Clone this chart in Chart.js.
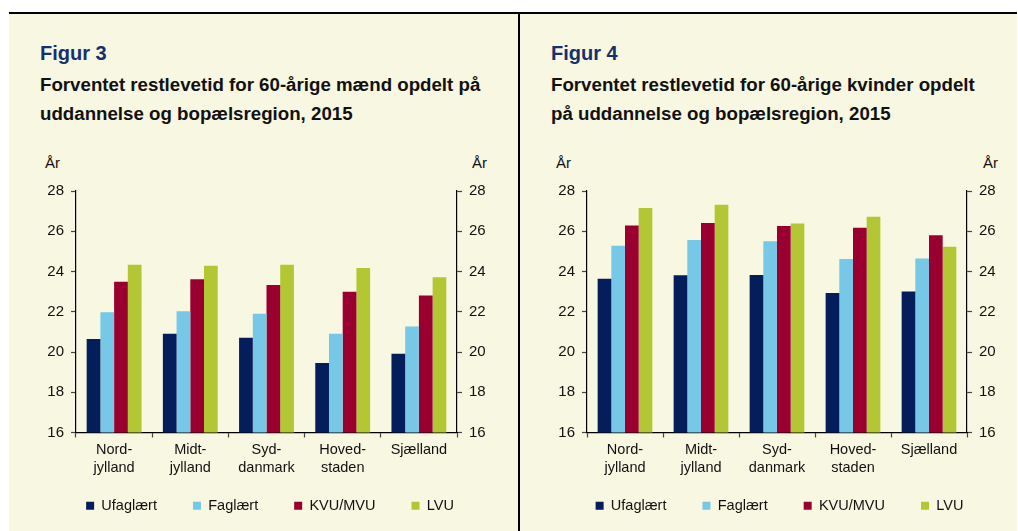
<!DOCTYPE html>
<html>
<head>
<meta charset="utf-8">
<script src="https://cdn.jsdelivr.net/npm/chart.js@4"></script>
<style>
  html, body { margin: 0; padding: 0; background: #fff; overflow: hidden; }
  body { width: 1018px; height: 531px; position: relative; font-family: "Liberation Sans", Arial, sans-serif; }
  .frame { position: absolute; left: 9px; top: 12px; width: 1008px; height: 519px; background: #f8f7e1; border-top: 2px solid #000; box-sizing: border-box; }
  .divider { position: absolute; left: 518px; top: 12px; width: 2px; height: 519px; background: #000; }
  .fig { position: absolute; font-weight: bold; color: #15306e; font-size: 20px; }
  .sub { position: absolute; font-weight: bold; color: #111; font-size: 18.7px; line-height: 29px; }
  .unit { position: absolute; font-size: 15px; color: #111; }
  canvas { position: absolute; }
</style>
</head>
<body>
<div class="frame"></div>
<div class="divider"></div>

<div class="fig" style="left:40px; top:42px;">Figur 3</div>
<div class="sub" style="left:40px; top:70px;">Forventet restlevetid for 60-årige mænd opdelt på<br>uddannelse og bopælsregion, 2015</div>
<div class="unit" style="left:45px; top:154px;">År</div>
<div class="unit" style="left:472px; top:154px;">År</div>
<div style="position:absolute; left:30px; top:150px; width:480px; height:381px;"><canvas id="men"></canvas></div>

<div class="fig" style="left:551px; top:42px;">Figur 4</div>
<div class="sub" style="left:551px; top:70px;">Forventet restlevetid for 60-årige kvinder opdelt<br>på uddannelse og bopælsregion, 2015</div>
<div class="unit" style="left:556px; top:154px;">År</div>
<div class="unit" style="left:983px; top:154px;">År</div>
<div style="position:absolute; left:541px; top:150px; width:477px; height:381px;"><canvas id="women"></canvas></div>

<script>
const regions = [['Nord-', 'jylland'], ['Midt-', 'jylland'], ['Syd-', 'danmark'], ['Hoved-', 'staden'], ['Sjælland']];
const educations = ['Ufaglært', 'Faglært', 'KVU/MVU', 'LVU'];
const colors = ['#041d5b', '#76c8e6', '#990030', '#b2c733'];

// Figur 3 - mænd
const menUfaglaert = [20.64, 20.91, 20.71, 19.45, 19.91];
const menFaglaert  = [21.98, 22.02, 21.90, 20.91, 21.27];
const menKvu       = [23.49, 23.62, 23.33, 22.99, 22.81];
const menLvu       = [24.34, 24.29, 24.34, 24.17, 23.72];

// Figur 4 - kvinder
const womenUfaglaert = [23.64, 23.81, 23.82, 22.93, 23.01];
const womenFaglaert  = [25.28, 25.56, 25.50, 24.62, 24.64];
const womenKvu       = [26.29, 26.41, 26.26, 26.18, 25.80];
const womenLvu       = [27.15, 27.32, 26.38, 26.72, 25.23];

const yTicks = [16, 18, 20, 22, 24, 26, 28];

function makeChart(id, series, rightWidth) {
    const tickFont = {family: 'Liberation Sans, Arial, sans-serif', size: 15};
    const labelFont = {family: 'Liberation Sans, Arial, sans-serif', size: 14.5, lineHeight: 1.25};
    const yAxis = (pos, width) => ({
        position: pos,
        min: 16, max: 28,
        afterBuildTicks: s => { s.ticks = yTicks.map(v => ({value: v})); },
        afterFit: s => { s.width = width; },
        border: {color: '#000', width: 1.2},
        grid: {drawOnChartArea: false, tickLength: 5, color: '#444', tickWidth: 1.2},
        ticks: {color: '#111', font: tickFont, padding: 7}
    });
    return new Chart(document.getElementById(id), {
        type: 'bar',
        data: {
            labels: regions,
            datasets: educations.map((name, i) => ({
                label: name, data: series[i], backgroundColor: colors[i], borderWidth: 0,
                barPercentage: 1, categoryPercentage: 0.72
            }))
        },
        options: {
            responsive: true, maintainAspectRatio: false, animation: false,
            layout: {padding: {top: 41, bottom: 8, left: 0, right: 0}},
            plugins: {
                tooltip: {enabled: false},
                legend: {
                    position: 'bottom',
                    labels: {boxWidth: 8, boxHeight: 8, padding: 36, color: '#111', font: labelFont}
                }
            },
            scales: {
                x: {
                    // keep the axis short so the legend sits high, but let the
                    // two-line labels draw past the axis box
                    afterFit: s => { s.height = 30; s._computeLabelArea = () => null; },
                    border: {color: '#000', width: 1.2},
                    grid: {drawOnChartArea: false, tickLength: 5, color: '#444', tickWidth: 1.2},
                    ticks: {color: '#111', font: labelFont, padding: 3, maxRotation: 0, autoSkip: false}
                },
                y: yAxis('left', 46),
                y2: yAxis('right', rightWidth)
            }
        }
    });
}

makeChart('men', [menUfaglaert, menFaglaert, menKvu, menLvu], 53);
makeChart('women', [womenUfaglaert, womenFaglaert, womenKvu, womenLvu], 51);
</script>
</body>
</html>
